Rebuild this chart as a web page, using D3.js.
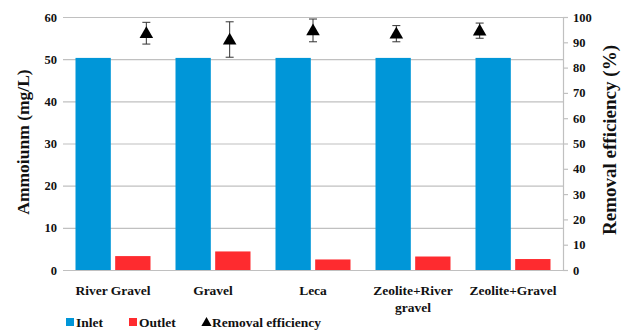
<!DOCTYPE html>
<html>
<head>
<meta charset="utf-8">
<script src="https://cdn.jsdelivr.net/npm/d3@7/dist/d3.min.js"></script>
<style>
  html, body { margin: 0; padding: 0; background: #fff; }
  svg text { font-family: "Liberation Serif", "DejaVu Serif", "Times New Roman", Times, serif !important; font-weight: bold; }
</style>
</head>
<body>
<svg id="chart" width="626" height="330"></svg>
<script>
// Media types tested
const categories = ["River Gravel", "Gravel", "Leca", "Zeolite+River gravel", "Zeolite+Gravel"];
const categoryLines = [["River Gravel"], ["Gravel"], ["Leca"], ["Zeolite+River", "gravel"], ["Zeolite+Gravel"]];

// Ammonium concentration (mg/L)
const inlet = [50.3, 50.3, 50.3, 50.3, 50.3];
const outlet = [3.3, 4.4, 2.5, 3.2, 2.6];

// Removal efficiency (%) with standard deviation
const efficiency = [93.6, 91.1, 94.7, 93.4, 94.6];
const efficiencySd = [4.3, 7.0, 4.5, 3.2, 3.0];

const leftTicks = [0, 10, 20, 30, 40, 50, 60];
const rightTicks = [0, 10, 20, 30, 40, 50, 60, 70, 80, 90, 100];

const colors = { inlet: "#0096d8", outlet: "#fe2b2f", grid: "#c0c0c0", text: "#111" };

const svg = d3.select("#chart");
const plot = { left: 63, right: 563, top: 17, bottom: 270 };

const x = d3.scaleBand().domain(categories).range([plot.left, plot.right]).paddingInner(0.25).paddingOuter(0.125);
const xSeries = d3.scaleBand().domain(["inlet", "outlet"]).range([0, x.bandwidth()]).paddingInner(0.11);
// Efficiency markers sit on their own evenly spaced positions
const xPts = d3.scalePoint().domain(categories)
  .range([plot.left + (plot.right - plot.left) / 6, plot.left + 5 * (plot.right - plot.left) / 6]);

const yL = d3.scaleLinear().domain([0, 60]).range([plot.bottom, plot.top]);
const yR = d3.scaleLinear().domain([0, 100]).range([plot.bottom, plot.top]);

// Horizontal gridlines on left-axis ticks
svg.append("g")
  .selectAll("line").data(leftTicks).join("line")
  .attr("x1", plot.left).attr("x2", plot.right)
  .attr("y1", d => yL(d) + 0.5).attr("y2", d => yL(d) + 0.5)
  .attr("stroke", colors.grid).attr("stroke-width", 1.2);

// Left axis labels
const gL = svg.append("g").attr("transform", `translate(${plot.left},0)`)
  .call(d3.axisLeft(yL).tickValues(leftTicks).tickSize(0).tickPadding(6));
gL.attr("font-family", null);
gL.select(".domain").remove();
gL.selectAll("text").attr("font-size", 12.5).attr("fill", colors.text);

// Right axis
const gR = svg.append("g").attr("transform", `translate(${plot.right},0)`)
  .call(d3.axisRight(yR).tickValues(rightTicks).tickSize(5).tickSizeOuter(0).tickPadding(5));
gR.attr("font-family", null);
gR.select(".domain").attr("stroke", colors.grid).attr("stroke-width", 1.2);
gR.selectAll(".tick line").attr("stroke", colors.grid).attr("stroke-width", 1.2);
gR.selectAll("text").attr("font-size", 12.5).attr("fill", colors.text);

// Bars
const groups = svg.append("g").selectAll("g").data(categories).join("g")
  .attr("transform", d => `translate(${x(d)},0)`);
groups.append("rect")
  .attr("x", xSeries("inlet")).attr("width", xSeries.bandwidth())
  .attr("y", (d, i) => yL(inlet[i])).attr("height", (d, i) => yL(0) - yL(inlet[i]))
  .attr("fill", colors.inlet);
groups.append("rect")
  .attr("x", xSeries("outlet")).attr("width", xSeries.bandwidth())
  .attr("y", (d, i) => yL(outlet[i])).attr("height", (d, i) => yL(0) - yL(outlet[i]))
  .attr("fill", colors.outlet);

// Efficiency error bars
const eb = svg.append("g").selectAll("g").data(categories).join("g");
eb.append("line")
  .attr("x1", d => xPts(d)).attr("x2", d => xPts(d))
  .attr("y1", (d, i) => yR(efficiency[i] + efficiencySd[i]))
  .attr("y2", (d, i) => yR(efficiency[i] - efficiencySd[i]))
  .attr("stroke", "#333").attr("stroke-width", 1);
[1, -1].forEach(s => {
  eb.append("line")
    .attr("x1", d => xPts(d) - 4).attr("x2", d => xPts(d) + 4)
    .attr("y1", (d, i) => yR(efficiency[i] + s * efficiencySd[i]))
    .attr("y2", (d, i) => yR(efficiency[i] + s * efficiencySd[i]))
    .attr("stroke", "#333").attr("stroke-width", 1);
});
// Triangle markers
const tri = d3.symbol().type(d3.symbolTriangle).size(80);
svg.append("g").selectAll("path").data(categories).join("path")
  .attr("d", tri)
  .attr("transform", (d, i) => `translate(${xPts(d)},${yR(efficiency[i]) + 1})`)
  .attr("fill", "#000");

// Category labels
svg.append("g").selectAll("text").data(categories).join("text")
  .attr("x", d => x(d) + x.bandwidth() / 2)
  .attr("y", 295)
  .attr("text-anchor", "middle")
  .attr("font-size", 13.5)
  .attr("fill", colors.text)
  .each(function (d, i) {
    d3.select(this).selectAll("tspan").data(categoryLines[i]).join("tspan")
      .attr("x", x(d) + x.bandwidth() / 2)
      .attr("dy", (t, j) => j === 0 ? 0 : 16.5)
      .text(t => t);
  });

// Axis titles
svg.append("text")
  .attr("transform", "translate(29,142) rotate(-90)")
  .attr("text-anchor", "middle").attr("font-size", 17.5).attr("fill", colors.text)
  .text("Ammoiunm (mg/L)");
svg.append("text")
  .attr("transform", "translate(615.5,140) rotate(-90)")
  .attr("text-anchor", "middle").attr("font-size", 19).attr("fill", colors.text)
  .text("Removal efficiency (%)");

// Legend
const legend = svg.append("g").attr("font-size", 13.5).attr("fill", colors.text);
legend.append("rect").attr("x", 66).attr("y", 318).attr("width", 8).attr("height", 8).attr("fill", colors.inlet);
legend.append("text").attr("x", 76).attr("y", 327).text("Inlet");
legend.append("rect").attr("x", 129).attr("y", 318).attr("width", 8).attr("height", 8).attr("fill", colors.outlet);
legend.append("text").attr("x", 139).attr("y", 327).text("Outlet");
legend.append("path").attr("d", d3.symbol().type(d3.symbolTriangle).size(45))
  .attr("transform", "translate(206.5,323)").attr("fill", "#000");
legend.append("text").attr("x", 212).attr("y", 327).text("Removal efficiency");
</script>
</body>
</html>
